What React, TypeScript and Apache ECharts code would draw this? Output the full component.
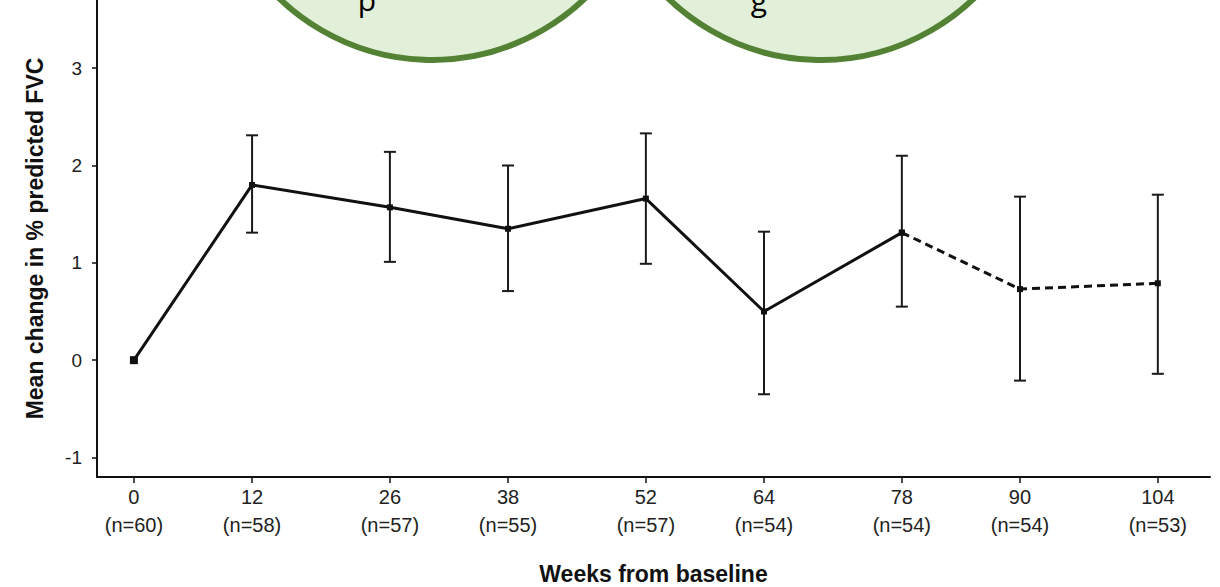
import React, { useEffect, useRef } from "react";
import * as echarts from "echarts";

const weeks = [0, 12, 26, 38, 52, 64, 78, 90, 104];
const nCounts = [60, 58, 57, 55, 57, 54, 54, 54, 53];
const means = [0, 1.8, 1.57, 1.35, 1.66, 0.5, 1.31, 0.73, 0.79];
const upper = [null, 2.31, 2.14, 2.0, 2.33, 1.32, 2.1, 1.68, 1.7];
const lower = [null, 1.31, 1.01, 0.71, 0.99, -0.35, 0.55, -0.21, -0.14];
const yTicks = [-1, 0, 1, 2, 3];
const solidCount = 7; // weeks 0..78 solid, 78..104 dashed

const FONT = "'Liberation Sans', Arial, sans-serif";

export default function App() {
  const ref = useRef<HTMLDivElement>(null);
  useEffect(() => {
    document.body.style.margin = "0";
    const chart = echarts.init(ref.current!, null, { renderer: "svg" });
    const pts = weeks.map((w, i) => [w, means[i]]);
    const errData = weeks
      .map((w, i) => [w, lower[i], upper[i]])
      .filter((d) => d[1] !== null);
    const option: any = {
      animation: false,
      backgroundColor: "#ffffff",
      textStyle: { fontFamily: FONT },
      grid: { left: 97, right: 10, top: 0, bottom: 110, containLabel: false, outerBoundsMode: "none" },
      xAxis: {
        type: "value",
        min: -3.75,
        max: 109.3,
        name: "Weeks from baseline",
        nameLocation: "middle",
        nameGap: 85,
        nameTextStyle: { fontSize: 23, fontWeight: "bold", color: "#111", fontFamily: FONT },
        splitLine: { show: false },
        axisLine: { show: true, onZero: false, lineStyle: { color: "#111", width: 2 } },
        axisTick: {
          show: true,
          customValues: weeks,
          length: 6,
          lineStyle: { color: "#111", width: 1.5 },
        },
        axisLabel: {
          customValues: weeks,
          margin: 6,
          fontSize: 20,
          lineHeight: 28,
          color: "#222",
          fontFamily: FONT,
          formatter: (v: number) => {
            const i = weeks.indexOf(v);
            return `${v}\n(n=${nCounts[i]})`;
          },
        },
      },
      yAxis: {
        type: "value",
        min: -1.2,
        max: 3.7,
        name: "Mean change in % predicted FVC",
        nameLocation: "middle",
        nameRotate: 90,
        nameGap: 51,
        nameTextStyle: { fontSize: 23, fontWeight: "bold", color: "#111", fontFamily: FONT },
        splitLine: { show: false },
        axisLine: { show: true, onZero: false, lineStyle: { color: "#111", width: 2 } },
        axisTick: {
          show: true,
          customValues: yTicks,
          length: 5,
          lineStyle: { color: "#111", width: 1.5 },
        },
        axisLabel: {
          customValues: yTicks,
          margin: 15,
          fontSize: 19,
          color: "#222",
          fontFamily: FONT,
        },
      },
      series: [
        {
          type: "custom",
          name: "error",
          data: errData,
          encode: { x: 0, y: [1, 2] },
          renderItem: (params: any, api: any) => {
            const x = api.value(0);
            const lo = api.coord([x, api.value(1)]);
            const hi = api.coord([x, api.value(2)]);
            const c = 6;
            const style = { stroke: "#1a1a1a", lineWidth: 2 };
            return {
              type: "group",
              children: [
                { type: "line", shape: { x1: lo[0], y1: lo[1], x2: hi[0], y2: hi[1] }, style },
                { type: "line", shape: { x1: hi[0] - c, y1: hi[1], x2: hi[0] + c, y2: hi[1] }, style },
                { type: "line", shape: { x1: lo[0] - c, y1: lo[1], x2: lo[0] + c, y2: lo[1] }, style },
              ],
            };
          },
          z: 2,
        },
        {
          type: "line",
          name: "solid",
          data: pts.slice(0, solidCount).map((p, i) => ({
            value: p,
            symbolSize: i === 0 ? 8 : 6,
          })),
          symbol: "rect",
          showSymbol: true,
          lineStyle: { color: "#111", width: 3 },
          itemStyle: { color: "#111" },
          z: 3,
        },
        {
          type: "line",
          name: "dashed",
          data: pts.slice(solidCount - 1).map((p) => ({ value: p, symbolSize: 6 })),
          symbol: "rect",
          lineStyle: { color: "#111", width: 3, type: [8, 5] },
          itemStyle: { color: "#111" },
          z: 3,
        },
      ],
      graphic: [
        {
          type: "circle",
          shape: { cx: 432, cy: -160, r: 220 },
          style: { fill: "#e2efd9", stroke: "#548235", lineWidth: 6 },
          z: 10,
        },
        {
          type: "circle",
          shape: { cx: 821, cy: -160, r: 220 },
          style: { fill: "#e2efd9", stroke: "#548235", lineWidth: 6 },
          z: 10,
        },
        {
          type: "text",
          x: 367,
          y: 14,
          style: { text: "p", fontSize: 30, fill: "#000", align: "center", verticalAlign: "bottom", fontFamily: "'Open Sans', sans-serif" },
          z: 11,
        },
        {
          type: "text",
          x: 759,
          y: 14,
          style: { text: "g", fontSize: 30, fill: "#000", align: "center", verticalAlign: "bottom", fontFamily: "'Open Sans', sans-serif" },
          z: 11,
        },
      ],
    };
    chart.setOption(option);
    return () => chart.dispose();
  }, []);
  return <div ref={ref} style={{ width: 1220, height: 587 }} />;
}
